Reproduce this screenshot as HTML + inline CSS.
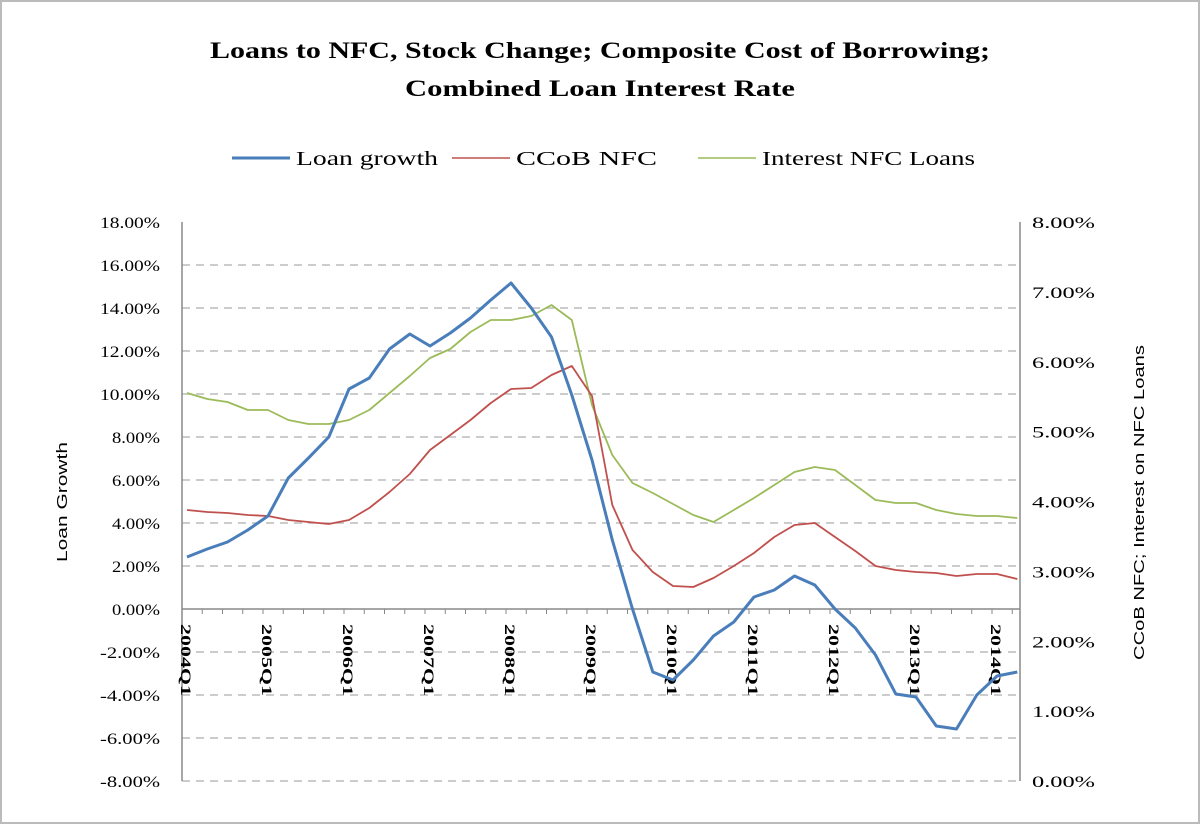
<!DOCTYPE html>
<html><head><meta charset="utf-8"><style>
html,body{margin:0;padding:0;background:#fff}
svg{display:block}
text{font-family:"Liberation Serif",serif;fill:#000}
</style></head><body>
<svg id="s" width="1200" height="824" xmlns="http://www.w3.org/2000/svg">
<rect x="1" y="1" width="1198" height="822" fill="#fff" stroke="#bbb" stroke-width="2"/>
<text x="210" y="58" font-size="23" font-weight="bold" textLength="780" lengthAdjust="spacingAndGlyphs">Loans to NFC, Stock Change; Composite Cost of Borrowing;</text>
<text x="405" y="96" font-size="23" font-weight="bold" textLength="390" lengthAdjust="spacingAndGlyphs">Combined Loan Interest Rate</text>
<line x1="232" y1="158" x2="290" y2="158" stroke="#4a7ebb" stroke-width="3"/>
<text x="296" y="165" font-size="20" textLength="142" lengthAdjust="spacingAndGlyphs">Loan growth</text>
<line x1="452" y1="158" x2="510" y2="158" stroke="#c0504d" stroke-width="1.5"/>
<text x="516" y="165" font-size="20" textLength="141" lengthAdjust="spacingAndGlyphs">CCoB NFC</text>
<line x1="698" y1="158" x2="756" y2="158" stroke="#9bbb59" stroke-width="1.5"/>
<text x="762" y="165" font-size="20" textLength="213" lengthAdjust="spacingAndGlyphs">Interest NFC Loans</text>
<g id="g"></g>
<text transform="translate(67,562) rotate(-90)" font-size="15" textLength="120" lengthAdjust="spacingAndGlyphs" style="font-family:'Liberation Sans',sans-serif">Loan Growth</text>
<text transform="translate(1144,660) rotate(-90)" font-size="15" textLength="315" lengthAdjust="spacingAndGlyphs" style="font-family:'Liberation Sans',sans-serif">CCoB NFC; Interest on NFC Loans</text>
</svg>
<script>
var g=document.getElementById('g'),h='';
var L=182,R=1020;
for(var k=0;k<=13;k++){var v=18-2*k,y=222+43*k;
 if(v!=0&&k>0)h+='<line x1="'+L+'" y1="'+y+'" x2="'+R+'" y2="'+y+'" stroke="#bbb" stroke-width="1.5" stroke-dasharray="8,6"/>';
 var s=v.toFixed(2)+'%';var w=(s.length==6?60:(s.length==5?48:55));
 h+='<text x="'+(160-w)+'" y="'+(y+6)+'" font-size="16" textLength="'+w+'" lengthAdjust="spacingAndGlyphs">'+s+'</text>';}
for(var k=0;k<=8;k++){var y=781-69.875*k;h+='<text x="1032" y="'+(y+6)+'" font-size="16" textLength="63" lengthAdjust="spacingAndGlyphs">'+k.toFixed(2)+'%</text>';}
h+='<line x1="'+L+'" y1="222" x2="'+L+'" y2="781" stroke="#888" stroke-width="1.5"/>';
h+='<line x1="'+R+'" y1="222" x2="'+R+'" y2="781" stroke="#888" stroke-width="1.5"/>';
h+='<line x1="'+L+'" y1="609" x2="'+R+'" y2="609" stroke="#888" stroke-width="1.5"/>';
for(var i=0;i<=41;i++){var x=L+i*20.25;h+='<line x1="'+x+'" y1="609" x2="'+x+'" y2="614" stroke="#888"/>';}
for(var yr=0;yr<11;yr++){var x=187+81*yr;h+='<text transform="translate('+(x-6)+',624) rotate(90)" font-size="15" font-weight="bold" textLength="72" lengthAdjust="spacingAndGlyphs">'+(2004+yr)+'Q1</text>';}
function X(i){return 187+20.25*i;}
var lg=[557,549,542,530,516,478,458,437,389,378,349,334,346,333,318,300,283,308,337,395,460,540,609,672,680,660,636,622,597,590,576,585,609,628,655,694,697,726,729,695,676,672];
var cc=[510,512,513,515,516,520,522,524,520,508,492,474,450,435,420,403,389,388,375,366,396,505,550,572,586,587,578,566,553,537,525,523,537,551,566,570,572,573,576,574,574,579];
var gr=[393,399,402,410,410,420,424,424,420,410,393,376,358,349,332,320,320,316,305,320,405,455,483,493,504,515,522,510,498,485,472,467,470,485,500,503,503,510,514,516,516,518];
function pl(a,c,w){return '<polyline fill="none" stroke="'+c+'" stroke-width="'+w+'" stroke-linejoin="round" points="'+a.map(function(y,i){return X(i).toFixed(1)+','+y}).join(' ')+'"/>';}
h+=pl(gr,'#9bbb59',1.8)+pl(cc,'#c0504d',1.8)+pl(lg,'#4a7ebb',3);
g.innerHTML=h;
</script>
</body></html>
